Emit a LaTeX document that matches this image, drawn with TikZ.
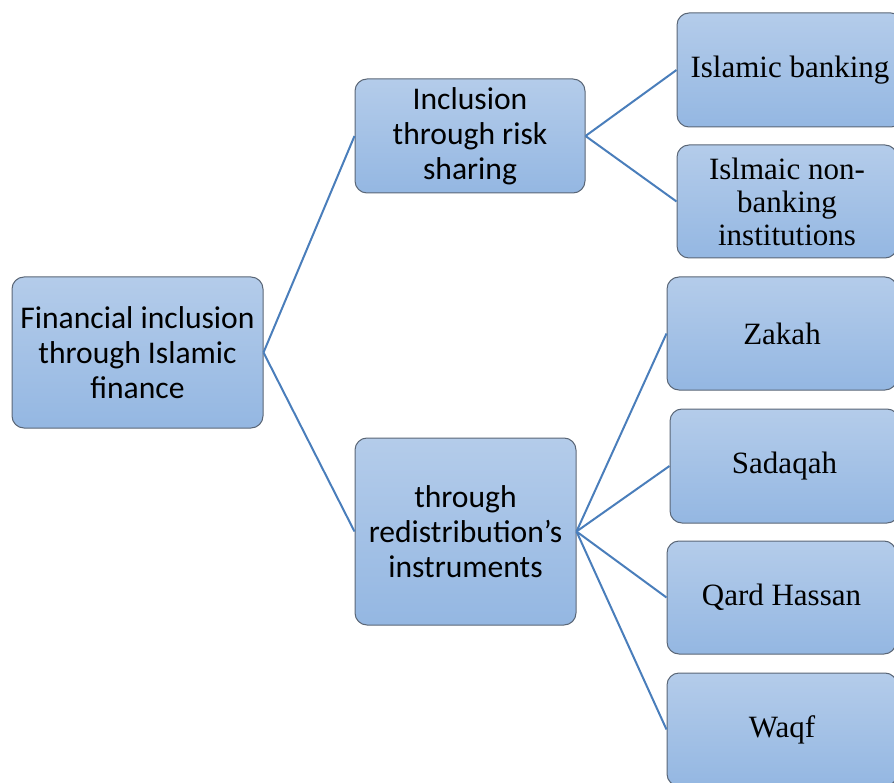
\documentclass[tikz,border=0pt]{standalone}
\usepackage{fontspec}
\setmainfont{Liberation Serif}
\newfontfamily\calib{Carlito}
\definecolor{boxtop}{RGB}{180,204,234}
\definecolor{boxbot}{RGB}{148,183,226}
\definecolor{boxborder}{RGB}{90,102,118}
\definecolor{linecol}{RGB}{74,126,187}
\begin{document}
\begin{tikzpicture}[x=1pt,y=-1pt,
  box/.style={rectangle, rounded corners=12pt, draw=boxborder, line width=1pt,
    top color=boxtop, bottom color=boxbot, inner sep=0pt, align=center, text=black},
  leftbox/.style={box, font=\calib\fontsize{31.6}{35}\selectfont},
  rightbox/.style={box, font=\fontsize{31}{33}\selectfont},
  conn/.style={draw=linecol, line width=2pt}]
\useasboundingbox (0,0) rectangle (894,783);
\clip (0,0) rectangle (894,783);
\node[leftbox, minimum width=251pt, minimum height=151pt] (root) at (137.5,352.5)
  {Financial inclusion\\through Islamic\\finance};
\node[leftbox, minimum width=230pt, minimum height=114pt] (inc) at (470,136)
  {Inclusion\\through risk\\sharing};
\node[leftbox, minimum width=221pt, minimum height=187pt] (red) at (465.5,531.5)
  {through\\redistribution’s\\instruments};
\node[rightbox, minimum width=226pt, minimum height=114pt] (ib) at (790,70)
  {Islamic banking};
\node[rightbox, minimum width=220pt, minimum height=113pt] (nb) at (787,201.5)
  {Islmaic non-\\banking\\institutions};
\node[rightbox, minimum width=230pt, minimum height=113pt] (zk) at (782,333.5)
  {Zakah};
\node[rightbox, minimum width=229pt, minimum height=114pt] (sd) at (784.5,466)
  {Sadaqah};
\node[rightbox, minimum width=229pt, minimum height=113pt] (qh) at (781.5,597.5)
  {Qard Hassan};
\node[rightbox, minimum width=230pt, minimum height=113pt] (wq) at (782,729.5)
  {Waqf};
\draw[conn] (root.east) -- (inc.west);
\draw[conn] (root.east) -- (red.west);
\draw[conn] (inc.east) -- (ib.west);
\draw[conn] (inc.east) -- (nb.west);
\draw[conn] (red.east) -- (zk.west);
\draw[conn] (red.east) -- (sd.west);
\draw[conn] (red.east) -- (qh.west);
\draw[conn] (red.east) -- (wq.west);
\end{tikzpicture}
\end{document}
